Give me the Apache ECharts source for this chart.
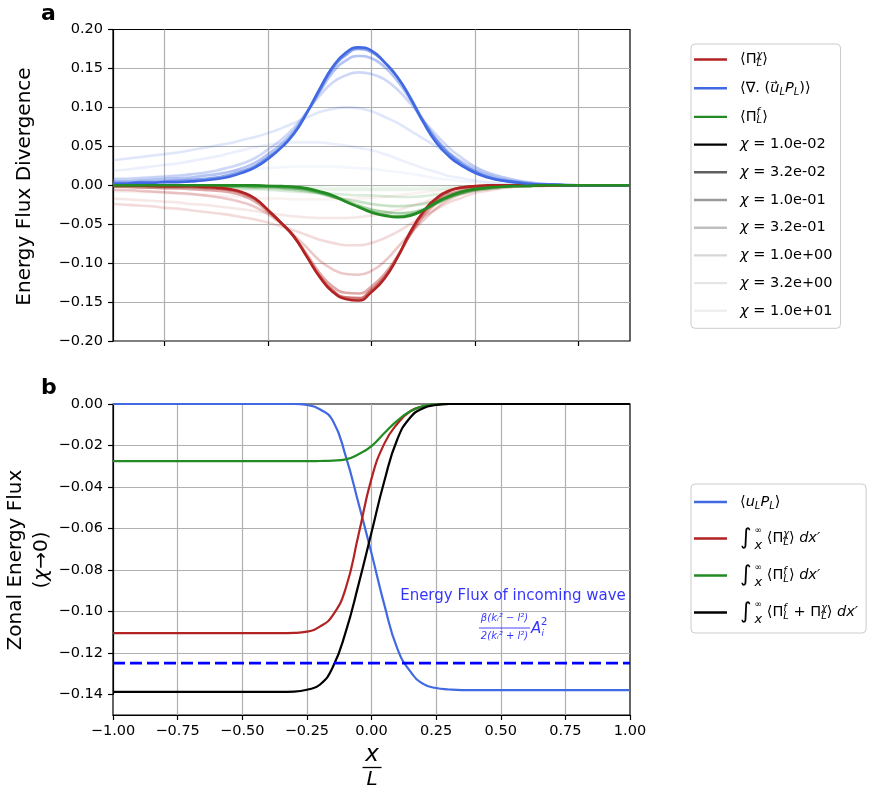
<!DOCTYPE html>
<html>
<head>
<meta charset="utf-8">
<script src="https://cdn.jsdelivr.net/npm/echarts@6/dist/echarts.min.js"></script>
<style>
html,body{margin:0;padding:0;background:#fff}
#chart{width:877px;height:794px}
</style>
</head>
<body>
<div id="chart"></div>
<script>
// ---- data: panel a (divergence terms, one row per chi), x step 0.05 ----
var chiLabels = ['1.0e-02','3.2e-02','1.0e-01','3.2e-01','1.0e+00','3.2e+00','1.0e+01'];
var xA = [-1,-0.95,-0.9,-0.85,-0.8,-0.75,-0.7,-0.65,-0.6,-0.55,-0.5,-0.45,-0.4,-0.35,-0.3,-0.25,-0.2,-0.15,-0.1,-0.05,
          0,0.05,0.1,0.15,0.2,0.25,0.3,0.35,0.4,0.45,0.5,0.55,0.6,0.65,0.7,0.75,0.8,0.85,0.9,0.95,1];

var divFlux = [
  [0.002,0.002,0.003,0.003,0.004, 0.004,0.005,0.006,0.008,0.011, 0.016,0.023,0.034,0.048,0.066, 0.093,0.124,0.152,0.170,0.177,
   0.173,0.158,0.139,0.112,0.081, 0.055,0.037,0.025,0.016,0.010, 0.006,0.004,0.002,0.001,0.001, 0,0,0,0,0,0],
  [0.003,0.003,0.004,0.004,0.005, 0.006,0.007,0.008,0.010,0.013, 0.018,0.025,0.036,0.049,0.067, 0.093,0.122,0.150,0.167,0.175,
   0.171,0.158,0.139,0.113,0.083, 0.058,0.040,0.027,0.018,0.011, 0.007,0.004,0.002,0.001,0.001, 0,0,0,0,0,0],
  [0.005,0.005,0.006,0.007,0.008, 0.009,0.010,0.012,0.014,0.017, 0.022,0.029,0.040,0.053,0.070, 0.094,0.120,0.145,0.160,0.166,
   0.163,0.152,0.134,0.110,0.083, 0.060,0.042,0.029,0.020,0.013, 0.008,0.005,0.003,0.002,0.001, 0,0,0,0,0,0],
  [0.008,0.008,0.009,0.010,0.011, 0.012,0.014,0.016,0.019,0.023, 0.028,0.035,0.046,0.058,0.074, 0.094,0.115,0.132,0.141,0.145,
   0.143,0.136,0.123,0.105,0.084, 0.065,0.048,0.035,0.024,0.016, 0.011,0.007,0.004,0.002,0.001, 0.001,0,0,0,0,0],
  [0.032,0.034,0.036,0.038,0.040, 0.042,0.045,0.048,0.051,0.054, 0.058,0.062,0.067,0.073,0.080, 0.087,0.094,0.098,0.100,0.099,
   0.095,0.088,0.080,0.070,0.060, 0.050,0.040,0.031,0.023,0.016, 0.011,0.007,0.004,0.002,0.001, 0.001,0,0,0,0,0],
  [0.019,0.020,0.022,0.024,0.026, 0.028,0.031,0.034,0.037,0.041, 0.045,0.049,0.052,0.054,0.055, 0.055,0.055,0.053,0.051,0.048,
   0.045,0.040,0.034,0.028,0.022, 0.017,0.012,0.009,0.006,0.004, 0.002,0.001,0.001,0,0, 0,0,0,0,0,0],
  [0.008,0.009,0.010,0.011,0.012, 0.013,0.014,0.015,0.017,0.018, 0.020,0.021,0.022,0.023,0.024, 0.024,0.024,0.024,0.023,0.022,
   0.021,0.019,0.017,0.015,0.012, 0.009,0.007,0.005,0.004,0.003, 0.002,0.001,0.001,0,0, 0,0,0,0,0,0]
];
var piChi = [
  [0,0,0,-0.001,-0.001, -0.001,-0.001,-0.002,-0.003,-0.005, -0.009,-0.017,-0.032,-0.048,-0.066, -0.092,-0.118,-0.137,-0.146,-0.148,
   -0.137,-0.120,-0.093,-0.060,-0.034, -0.017,-0.007,-0.003,-0.001,0, 0,0,0,0,0, 0,0,0,0,0,0],
  [-0.001,-0.001,-0.001,-0.001,-0.002, -0.002,-0.002,-0.003,-0.004,-0.006, -0.010,-0.018,-0.032,-0.048,-0.066, -0.091,-0.117,-0.135,-0.144,-0.145,
   -0.134,-0.118,-0.093,-0.062,-0.036, -0.019,-0.008,-0.003,-0.002,-0.001, 0,0,0,0,0, 0,0,0,0,0,0],
  [-0.002,-0.002,-0.003,-0.003,-0.004, -0.004,-0.005,-0.006,-0.007,-0.009, -0.013,-0.021,-0.034,-0.049,-0.066, -0.089,-0.113,-0.130,-0.138,-0.139,
   -0.130,-0.114,-0.091,-0.064,-0.040, -0.023,-0.012,-0.006,-0.003,-0.002, -0.001,0,0,0,0, 0,0,0,0,0,0],
  [-0.006,-0.006,-0.007,-0.008,-0.009, -0.010,-0.011,-0.013,-0.015,-0.018, -0.022,-0.028,-0.037,-0.049,-0.064, -0.080,-0.097,-0.108,-0.114,-0.115,
   -0.110,-0.098,-0.080,-0.062,-0.045, -0.030,-0.018,-0.011,-0.006,-0.003, -0.002,-0.001,-0.001,0,0, 0,0,0,0,0,0],
  [-0.024,-0.025,-0.026,-0.027,-0.029, -0.030,-0.032,-0.034,-0.036,-0.038, -0.041,-0.044,-0.048,-0.053,-0.058, -0.064,-0.070,-0.074,-0.077,-0.077,
   -0.074,-0.068,-0.060,-0.050,-0.040, -0.031,-0.022,-0.016,-0.010,-0.007, -0.004,-0.002,-0.001,-0.001,0, 0,0,0,0,0,0],
  [-0.017,-0.018,-0.019,-0.020,-0.021, -0.022,-0.024,-0.025,-0.027,-0.029, -0.031,-0.033,-0.036,-0.038,-0.040, -0.041,-0.042,-0.042,-0.042,-0.041,
   -0.039,-0.036,-0.032,-0.027,-0.022, -0.017,-0.013,-0.010,-0.007,-0.005, -0.003,-0.002,-0.001,-0.001,0, 0,0,0,0,0,0],
  [-0.008,-0.008,-0.009,-0.009,-0.010, -0.011,-0.012,-0.012,-0.013,-0.014, -0.015,-0.016,-0.017,-0.017,-0.018, -0.018,-0.018,-0.018,-0.018,-0.017,
   -0.016,-0.015,-0.013,-0.011,-0.009, -0.007,-0.006,-0.004,-0.003,-0.002, -0.001,-0.001,0,0,0, 0,0,0,0,0,0]
];
var piF = [
  [0,0,0,0,0, 0,0,0,0,0, 0,0,-0.001,-0.001,-0.002, -0.004,-0.008,-0.013,-0.021,-0.028,
   -0.035,-0.039,-0.041,-0.039,-0.032, -0.022,-0.014,-0.008,-0.005,-0.003, -0.002,-0.001,-0.001,0,0, 0,0,0,0,0,0],
  [0,0,0,0,0, 0,0,0,0,-0.001, -0.001,-0.001,-0.001,-0.002,-0.003, -0.005,-0.009,-0.014,-0.021,-0.028,
   -0.034,-0.038,-0.040,-0.038,-0.032, -0.023,-0.015,-0.009,-0.005,-0.003, -0.002,-0.001,-0.001,0,0, 0,0,0,0,0,0],
  [0,0,0,0,0, -0.001,-0.001,-0.001,-0.001,-0.001, -0.001,-0.002,-0.002,-0.003,-0.004, -0.006,-0.010,-0.015,-0.020,-0.026,
   -0.031,-0.034,-0.036,-0.035,-0.031, -0.024,-0.016,-0.010,-0.006,-0.004, -0.002,-0.001,-0.001,0,0, 0,0,0,0,0,0],
  [-0.001,-0.001,-0.001,-0.001,-0.001, -0.001,-0.001,-0.002,-0.002,-0.002, -0.002,-0.003,-0.003,-0.004,-0.006, -0.008,-0.011,-0.015,-0.018,-0.021,
   -0.024,-0.026,-0.027,-0.026,-0.024, -0.020,-0.015,-0.011,-0.007,-0.005, -0.003,-0.002,-0.001,-0.001,0, 0,0,0,0,0,0],
  [-0.002,-0.002,-0.002,-0.003,-0.003, -0.003,-0.003,-0.004,-0.004,-0.004, -0.005,-0.005,-0.006,-0.007,-0.008, -0.009,-0.010,-0.011,-0.012,-0.013,
   -0.013,-0.014,-0.015,-0.015,-0.014, -0.012,-0.010,-0.008,-0.005,-0.004, -0.002,-0.001,-0.001,0,0, 0,0,0,0,0,0],
  [-0.002,-0.002,-0.002,-0.003,-0.003, -0.003,-0.003,-0.003,-0.003,-0.004, -0.004,-0.004,-0.004,-0.005,-0.005, -0.005,-0.005,-0.006,-0.006,-0.006,
   -0.006,-0.006,-0.006,-0.006,-0.005, -0.005,-0.004,-0.003,-0.002,-0.002, -0.001,-0.001,0,0,0, 0,0,0,0,0,0],
  [-0.001,-0.001,-0.001,-0.001,-0.001, -0.001,-0.001,-0.002,-0.002,-0.002, -0.002,-0.002,-0.002,-0.002,-0.002, -0.002,-0.002,-0.003,-0.003,-0.003,
   -0.003,-0.003,-0.003,-0.003,-0.002, -0.002,-0.002,-0.002,-0.001,-0.001, -0.001,-0.001,0,0,0, 0,0,0,0,0,0]
];

// ---- data: panel b (zonal energy flux, chi -> 0), x step 0.05 ----
var xB = xA;
var uP = [0,0,0,0,0, 0,0,0,0,0, 0,0,0,0,0, -0.0005,-0.0025,-0.008,-0.025,-0.048,
  -0.072,-0.097,-0.118,-0.129,-0.135, -0.137,-0.1377,-0.138,-0.138,-0.138, -0.138,-0.138,-0.138,-0.138,-0.138, -0.138,-0.138,-0.138,-0.138,-0.138,-0.138];
var intPiChi = [-0.1105,-0.1105,-0.1105,-0.1105,-0.1105, -0.1105,-0.1105,-0.1105,-0.1105,-0.1105, -0.1105,-0.1105,-0.1105,-0.1105,-0.1104,
  -0.1098,-0.1074,-0.102,-0.089,-0.063, -0.036,-0.019,-0.0095,-0.0035,-0.0012, -0.0003,0,0,0,0, 0,0,0,0,0, 0,0,0,0,0,0];
var intPiF = [-0.0276,-0.0276,-0.0276,-0.0276,-0.0276, -0.0276,-0.0276,-0.0276,-0.0276,-0.0276, -0.0276,-0.0276,-0.0276,-0.0276,-0.0276,
  -0.0276,-0.0275,-0.0273,-0.0267,-0.0242, -0.0203,-0.014,-0.008,-0.0035,-0.001, -0.0002,0,0,0,0, 0,0,0,0,0, 0,0,0,0,0,0];
var intTotal = [-0.1388,-0.1388,-0.1388,-0.1388,-0.1388, -0.1388,-0.1388,-0.1388,-0.1388,-0.1388, -0.1388,-0.1388,-0.1388,-0.1388,-0.1387,
  -0.1378,-0.1354,-0.127,-0.110,-0.087, -0.062,-0.037,-0.017,-0.0065,-0.002, -0.0005,0,0,0,0, 0,0,0,0,0, 0,0,0,0,0,0];
var incomingFlux = -0.125;

// ---- style ----
var chiAlpha = [1, 0.63, 0.4, 0.25, 0.16, 0.1, 0.063];
var RED = [178,34,34], BLUE = [65,105,225], GREEN = [34,139,34];
var F = '"DejaVu Sans", sans-serif';

function rgba(c, a){ return 'rgba(' + c[0] + ',' + c[1] + ',' + c[2] + ',' + a + ')'; }
function pairs(xs, ys){ return xs.map(function(x, i){ return [x, ys[i]]; }); }
function tickFmt(v){
  if (Math.abs(v) < 1e-9) return '0.00';
  return v.toFixed(2).replace('-', '\u2212');
}
function line(name, xs, ys, color, width, xi, z){
  return {
    name: name, type: 'line', xAxisIndex: xi, yAxisIndex: xi,
    data: pairs(xs, ys), color: color, showSymbol: false, symbol: 'none',
    smooth: 0.5, silent: true, z: z || 2,
    lineStyle: {color: color, width: width}, emphasis: {disabled: true}
  };
}

// plot boxes (pixels)
var AX0 = 113, AX1 = 630;
function xpx(x){ return AX0 + (x + 1) / 2 * (AX1 - AX0); }
var topA = 29.5, hA = 311.5, topB = 404, hB = 311;

var series = [];
for (var k = chiLabels.length - 1; k >= 0; k--) {
  var tag = k === 0 ? '' : ' ' + chiLabels[k];
  series.push(line('PiChi' + tag, xA, piChi[k], rgba(RED, chiAlpha[k]), 2.6, 0, 2 + (7 - k)));
  series.push(line('DivFlux' + tag, xA, divFlux[k], rgba(BLUE, chiAlpha[k]), 2.6, 0, 2 + (7 - k)));
  series.push(line('PiF' + tag, xA, piF[k], rgba(GREEN, chiAlpha[k]), 2.6, 0, 2 + (7 - k)));
}
// legend-only entries for the chi shading
chiLabels.forEach(function(lab, k){
  series.push({name: 'chi' + k, type: 'line', xAxisIndex: 0, yAxisIndex: 0, data: [],
    color: 'rgba(0,0,0,' + chiAlpha[k] + ')', lineStyle: {color: 'rgba(0,0,0,' + chiAlpha[k] + ')'}});
});

series.push(line('uP', xB, uP, rgba(BLUE, 1), 2.2, 2));
series.push(line('intPiChi', xB, intPiChi, rgba(RED, 1), 2.2, 2));
series.push(line('intPiF', xB, intPiF, rgba(GREEN, 1), 2.2, 2));
series.push(line('intTotal', xB, intTotal, '#000', 2.2, 2));
series.push({name: 'incoming', type: 'line', xAxisIndex: 2, yAxisIndex: 2, silent: true, z: 3,
  data: [[-1, incomingFlux], [1, incomingFlux]], showSymbol: false, symbol: 'none',
  lineStyle: {color: '#0000ff', width: 2.8, type: [12, 5]}});

var rich = {
  i: {fontFamily: F, fontSize: 14.5, fontStyle: 'italic', color: '#000'},
  sub: {fontFamily: F, fontSize: 10, lineHeight: 10, fontStyle: 'italic', padding: [8, 0, 0, 0], color: '#000'},
  supz: {fontFamily: F, fontSize: 10, lineHeight: 10, fontStyle: 'italic', padding: [0, 0, 9, 0], width: 0, color: '#000'},
  arr: {fontFamily: F, fontSize: 9, lineHeight: 9, padding: [0, 0, 12, 0], width: 0, color: '#000'},
  int: {fontFamily: F, fontSize: 22, lineHeight: 24, color: '#000'},
  infz: {fontFamily: F, fontSize: 9, lineHeight: 9, padding: [0, 0, 16, 3], width: 0, color: '#000'},
  subx: {fontFamily: F, fontSize: 13, lineHeight: 13, fontStyle: 'italic', padding: [14, 0, 0, 0], color: '#000'}
};
var legendText = {
  'PiChi': '\u27E8\u03A0{supz|\u03C7}{sub|L}\u27E9',
  'DivFlux': '\u27E8\u2207. ({arr|\u2192}{i|u}{sub|L}{i|P}{sub|L})\u27E9',
  'PiF': '\u27E8\u03A0{supz|f}{sub|L}\u27E9',
  'uP': '\u27E8{i|u}{sub|L}{i|P}{sub|L}\u27E9',
  'intPiChi': '{int|\u222B}{infz|\u221E}{subx|x} \u27E8\u03A0{supz|\u03C7}{sub|L}\u27E9 {i|dx\u2032}',
  'intPiF': '{int|\u222B}{infz|\u221E}{subx|x} \u27E8\u03A0{supz|f}{sub|L}\u27E9 {i|dx\u2032}',
  'intTotal': '{int|\u222B}{infz|\u221E}{subx|x} \u27E8\u03A0{supz|f}{sub|L} + \u03A0{supz|\u03C7}{sub|L}\u27E9 {i|dx\u2032}'
};
chiLabels.forEach(function(lab, k){ legendText['chi' + k] = '{i|\u03C7} = ' + lab; });

function legendBox(left, top, names, gap, lh, pad){
  return {
    show: true, orient: 'vertical', left: left, top: top, data: names,
    icon: 'rect', itemWidth: 33, itemHeight: 2.4, itemGap: gap, padding: pad,
    borderColor: '#cccccc', borderWidth: 1, borderRadius: 4, backgroundColor: 'rgba(255,255,255,0.8)',
    selectedMode: false,
    formatter: function(n){ return legendText[n] || n; },
    textStyle: {fontFamily: F, fontSize: 14.5, color: '#000', lineHeight: lh, padding: [0, 0, 0, 8], rich: rich}
  };
}

var gridLine = {show: true, showMinLine: false, showMaxLine: false, lineStyle: {color: '#b0b0b0', width: 1.2}};
var tick = {show: true, length: 5, lineStyle: {color: '#000', width: 1.2}};
var label = {fontFamily: F, fontSize: 14.5, color: '#000', formatter: tickFmt};
var blackLine = {show: true, onZero: false, lineStyle: {color: '#000', width: 1.2}};

var option = {
  animation: false,
  backgroundColor: '#fff',
  grid: [
    {left: AX0, width: AX1 - AX0, top: topA, height: hA, show: true, borderColor: '#000', borderWidth: 1.2, outerBoundsMode: 'none'},
    {left: xpx(-0.8), width: xpx(0.8) - xpx(-0.8), top: topA, height: hA, outerBoundsMode: 'none'},
    {left: AX0, width: AX1 - AX0, top: topB, height: hB, show: true, borderColor: '#000', borderWidth: 1.2, outerBoundsMode: 'none'},
    {left: AX0, width: AX1 - AX0, top: topB, height: hB * 0.14 / 0.15, outerBoundsMode: 'none'}
  ],
  xAxis: [
    {gridIndex: 0, type: 'value', min: -1, max: 1, axisLine: {show: false, onZero: false}, axisTick: {show: false}, axisLabel: {show: false}, splitLine: {show: false}},
    {gridIndex: 1, type: 'value', min: -0.8, max: 0.8, interval: 0.4, axisLine: {show: false, onZero: false}, axisTick: tick, axisLabel: {show: false},
      splitLine: {show: true, lineStyle: {color: '#b0b0b0', width: 1.2}}},
    {gridIndex: 2, type: 'value', min: -1, max: 1, interval: 0.25, axisLine: blackLine, axisTick: tick,
      axisLabel: Object.assign({margin: 9}, label), splitLine: gridLine},
    {gridIndex: 3, type: 'value', min: -1, max: 1, show: false, axisLine: {onZero: false}}
  ],
  yAxis: [
    {gridIndex: 0, type: 'value', min: -0.2, max: 0.2, interval: 0.05, axisLine: blackLine, axisTick: tick,
      axisLabel: Object.assign({margin: 10}, label), splitLine: gridLine},
    {gridIndex: 1, type: 'value', min: 0, max: 1, show: false, axisLine: {onZero: false}},
    {gridIndex: 2, type: 'value', min: -0.15, max: 0, show: false, axisLine: {onZero: false}},
    {gridIndex: 3, type: 'value', min: -0.14, max: 0, interval: 0.02, axisLine: blackLine, axisTick: tick,
      axisLabel: Object.assign({margin: 10}, label), splitLine: gridLine}
  ],
  legend: [
    legendBox(691, 44, ['PiChi', 'DivFlux', 'PiF'].concat(chiLabels.map(function(l, k){ return 'chi' + k; })), 8.7, 19, [6, 8, 8, 3]),
    legendBox(691, 484, ['uP', 'intPiChi', 'intPiF', 'intTotal'], 10, 26, [5, 8, 7, 3])
  ],
  series: series,
  graphic: [
    {type: 'text', x: 41, y: 14.5, style: {text: 'a', font: 'bold 22px ' + F, fill: '#000', align: 'left', verticalAlign: 'middle', textAlign: 'left', textVerticalAlign: 'middle'}},
    {type: 'text', x: 41, y: 388.5, style: {text: 'b', font: 'bold 22px ' + F, fill: '#000', align: 'left', verticalAlign: 'middle', textAlign: 'left', textVerticalAlign: 'middle'}},
    {type: 'text', x: 24.5, y: 186.5, rotation: Math.PI / 2,
      style: {text: 'Energy Flux Divergence', font: '20px ' + F, fill: '#000', align: 'center', verticalAlign: 'middle', textAlign: 'center', textVerticalAlign: 'middle'}},
    {type: 'text', x: 16, y: 560, rotation: Math.PI / 2,
      style: {text: 'Zonal Energy Flux', font: '20px ' + F, fill: '#000', align: 'center', verticalAlign: 'middle', textAlign: 'center', textVerticalAlign: 'middle'}},
    {type: 'text', x: 41.5, y: 560, rotation: Math.PI / 2,
      style: {text: '({i|\u03C7}\u21920)', font: '20px ' + F, fill: '#000', align: 'center', verticalAlign: 'middle', textAlign: 'center', textVerticalAlign: 'middle',
        rich: {i: {fontFamily: F, fontSize: 20, fontStyle: 'italic'}}}},
    {type: 'text', x: 372, y: 755, style: {text: 'x', font: 'italic 23px ' + F, fill: '#000', align: 'center', verticalAlign: 'middle', textAlign: 'center', textVerticalAlign: 'middle'}},
    {type: 'line', shape: {x1: 362.5, y1: 767.5, x2: 381.5, y2: 767.5}, style: {stroke: '#000', lineWidth: 1.3}},
    {type: 'text', x: 372, y: 780, style: {text: 'L', font: 'italic 20px ' + F, fill: '#000', align: 'center', verticalAlign: 'middle', textAlign: 'center', textVerticalAlign: 'middle'}},
    {type: 'text', x: 513, y: 596, z: 10, style: {text: 'Energy Flux of incoming wave', font: '15px ' + F, fill: 'rgba(0,0,255,0.8)', align: 'center', verticalAlign: 'middle', textAlign: 'center', textVerticalAlign: 'middle'}},
    {type: 'text', x: 504.5, y: 618, z: 10, style: {text: '\u03B2(k\u1D62\u00B2 \u2212 l\u00B2)', font: 'italic 10px ' + F, fill: 'rgba(0,0,255,0.8)', align: 'center', verticalAlign: 'middle', textAlign: 'center', textVerticalAlign: 'middle'}},
    {type: 'line', z: 10, shape: {x1: 479, y1: 628, x2: 530, y2: 628}, style: {stroke: 'rgba(0,0,255,0.8)', lineWidth: 0.9}},
    {type: 'text', x: 504.5, y: 636.5, z: 10, style: {text: '2(k\u1D62\u00B2 + l\u00B2)', font: 'italic 10px ' + F, fill: 'rgba(0,0,255,0.8)', align: 'center', verticalAlign: 'middle', textAlign: 'center', textVerticalAlign: 'middle'}},
    {type: 'text', x: 531, y: 629, z: 10, style: {text: 'A', font: 'italic 15px ' + F, fill: 'rgba(0,0,255,0.8)', align: 'left', verticalAlign: 'middle', textAlign: 'left', textVerticalAlign: 'middle'}},
    {type: 'text', x: 541, y: 622, z: 10, style: {text: '2', font: '10px ' + F, fill: 'rgba(0,0,255,0.8)', align: 'left', verticalAlign: 'middle', textAlign: 'left', textVerticalAlign: 'middle'}},
    {type: 'text', x: 541.5, y: 634, z: 10, style: {text: 'i', font: 'italic 9px ' + F, fill: 'rgba(0,0,255,0.8)', align: 'left', verticalAlign: 'middle', textAlign: 'left', textVerticalAlign: 'middle'}}
  ]
};

var myChart = echarts.init(document.getElementById('chart'), null, {renderer: 'canvas'});
myChart.setOption(option);
</script>
</body>
</html>
